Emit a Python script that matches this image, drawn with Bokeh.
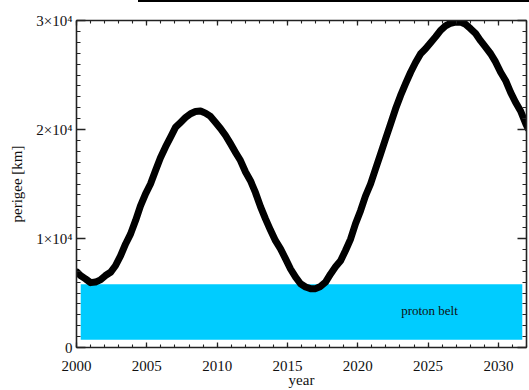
from bokeh.plotting import figure
from bokeh.models import (LinearAxis, SingleIntervalTicker, Range1d, Label,
                          ColumnDataSource, Div)
from bokeh.layouts import column
from bokeh.embed import file_html
from bokeh.resources import INLINE

# ---- data ----
years = [2000.05, 2000.28, 2000.64, 2001.0, 2001.35, 2001.7, 2002.06, 2002.42,
         2002.77, 2003.13, 2003.49, 2003.84, 2004.2, 2004.55, 2004.91, 2005.26,
         2005.62, 2005.97, 2006.33, 2006.69, 2007.04, 2007.4, 2007.75, 2008.11,
         2008.46, 2008.82, 2009.17, 2009.53, 2009.89, 2010.24, 2010.6, 2010.95,
         2011.31, 2011.66, 2012.02, 2012.37, 2012.73, 2013.09, 2013.44, 2013.8,
         2014.15, 2014.51, 2014.86, 2015.22, 2015.58, 2015.93, 2016.29, 2016.64,
         2017.0, 2017.35, 2017.71, 2018.07, 2018.42, 2018.78, 2019.13, 2019.49,
         2019.84, 2020.2, 2020.55, 2020.91, 2021.27, 2021.62, 2021.98, 2022.33,
         2022.69, 2023.04, 2023.4, 2023.76, 2024.11, 2024.47, 2024.82, 2025.18,
         2025.53, 2025.89, 2026.24, 2026.6, 2026.96, 2027.31, 2027.67, 2028.02,
         2028.38, 2028.73, 2029.09, 2029.45, 2029.8, 2030.16, 2030.51, 2030.87,
         2031.22, 2031.58, 2031.94, 2032.1]
perigee = [6900, 6600, 6300, 5950, 6000, 6200, 6600, 6900,
           7500, 8400, 9500, 10400, 11650, 13000, 14100, 15000,
           16240, 17400, 18400, 19300, 20200, 20650, 21100, 21450,
           21650, 21700, 21500, 21200, 20650, 20100, 19450, 18700,
           17900, 17150, 16100, 15300, 14200, 12900, 11800, 10750,
           9800, 9050, 8150, 7200, 6450, 5850, 5550, 5400,
           5400, 5600, 6000, 6750, 7400, 7950, 8900, 9950,
           11350, 12550, 13900, 15000, 16400, 17750, 19150, 20500,
           21900, 23100, 24200, 25250, 26150, 26950, 27400, 27950,
           28500, 29100, 29500, 29750, 29850, 29850, 29650, 29250,
           28800, 28150, 27550, 26950, 26200, 25250, 24500, 23400,
           22500, 21700, 20550, 20100]

belt_left, belt_right = 2000.3, 2031.7
belt_bottom, belt_top = 700, 5800
belt_label = "proton belt"
belt_label_x, belt_label_y = 2025.1, 3400

x_major_interval = 5
y_major_interval = 10000
y_tick_values = [0, 10000, 20000, 30000]
y_tick_labels = ["0", "1×10⁴", "2×10⁴", "3×10⁴"]
x_title = "year"
y_title = "perigee [km]"

FONT = "Liberation Serif"

p = figure(width=529, height=388, output_backend="svg", toolbar_location=None,
           x_range=Range1d(2000, 2032), y_range=Range1d(0, 30000),
           x_axis_location=None, y_axis_location=None,
           min_border_left=76, min_border_right=3, min_border_top=18,
           min_border_bottom=43, margin=0)
p.outline_line_color = None
p.xgrid.visible = False
p.ygrid.visible = False
p.background_fill_color = "white"
p.border_fill_color = "white"


def style(ax, tin, mtin, labels):
    ax.axis_line_color = "#222222"
    ax.axis_line_width = 1.6
    ax.major_tick_line_color = "#222222"
    ax.minor_tick_line_color = "#222222"
    ax.major_tick_line_width = 1.3
    ax.minor_tick_line_width = 1.1
    ax.major_tick_in = tin
    ax.major_tick_out = 0
    ax.minor_tick_in = mtin
    ax.minor_tick_out = 0
    if labels:
        ax.major_label_text_font = FONT
        ax.major_label_text_font_size = "15px"
        ax.major_label_text_color = "#111111"
        ax.axis_label_text_font = FONT
        ax.axis_label_text_font_size = "15px"
        ax.axis_label_text_font_style = "normal"
        ax.axis_label_text_color = "#111111"
    else:
        ax.major_label_text_font_size = "0px"
        ax.major_label_text_color = None


def xticker():
    return SingleIntervalTicker(interval=x_major_interval, num_minor_ticks=5)


def yticker():
    return SingleIntervalTicker(interval=y_major_interval, num_minor_ticks=10)


bottom = LinearAxis(ticker=xticker(), axis_label=x_title)
style(bottom, 5, 3, True)
bottom.major_label_standoff = 13
bottom.axis_label_standoff = -2
p.add_layout(bottom, "below")

left = LinearAxis(ticker=yticker(), axis_label=y_title)
style(left, 9, 4, True)
left.major_label_standoff = 4
left.axis_label_standoff = 8
left.major_label_overrides = {v: t for v, t in zip(y_tick_values, y_tick_labels)}
p.add_layout(left, "left")

top = LinearAxis(ticker=xticker())
style(top, 5, 3, False)
p.add_layout(top, "above")

right = LinearAxis(ticker=yticker())
style(right, 9, 4, False)
p.add_layout(right, "right")

# proton belt band
p.quad(left=[belt_left], right=[belt_right], bottom=[belt_bottom], top=[belt_top],
       fill_color="#00CCFF", line_color=None)

p.add_layout(Label(x=belt_label_x, y=belt_label_y, text=belt_label,
                   text_font=FONT, text_font_size="13px", text_color="#111111",
                   text_align="center", text_baseline="middle"))

# perigee curve
src = ColumnDataSource(dict(x=years, y=perigee))
p.line("x", "y", source=src, line_color="black", line_width=7,
       line_join="round", line_cap="round")

# thin rule at the very top of the image (cut-off element in the reference)
rule = Div(text="", width=391, height=2, margin=(0, 0, 0, 138),
           styles={"background-color": "black", "overflow": "hidden"})

layout = column(rule, p, spacing=0, margin=0)

open("out.html", "w").write(file_html(layout, INLINE))
